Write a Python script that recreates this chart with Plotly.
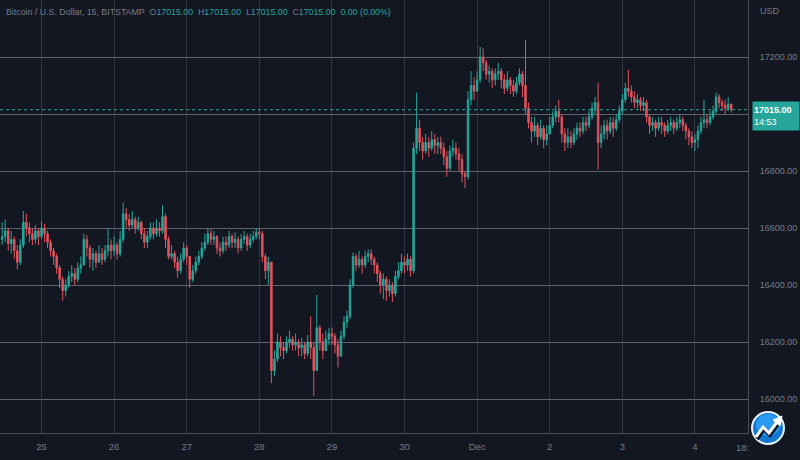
import pandas as pd
import plotly.graph_objects as go

# ---------------- data (hourly candles) ----------------
start_time = "2022-11-24 11:00"
first_open = 16560

closes = [
    # Nov 24 (11:00-23:00)
    16570, 16590, 16545, 16560, 16520, 16480, 16540, 16620, 16600, 16580, 16560, 16590, 16570,
    # Nov 25
    16600, 16580, 16550, 16520, 16500, 16460, 16420, 16380, 16400, 16430, 16440, 16420,
    16460, 16470, 16560, 16530, 16490, 16510, 16480, 16510, 16490, 16520, 16540, 16520,
    # Nov 26
    16540, 16510, 16560, 16650, 16630, 16610, 16630, 16600, 16620, 16580, 16550, 16570,
    16600, 16580, 16600, 16590, 16640, 16560, 16500, 16510, 16480, 16450, 16490, 16530,
    # Nov 27
    16500, 16420, 16450, 16480, 16500, 16530, 16550, 16580, 16560, 16570, 16530, 16520,
    16550, 16540, 16570, 16550, 16560, 16530, 16560, 16570, 16540, 16560, 16570, 16585,
    # Nov 28
    16580, 16500, 16450, 16480, 16100, 16140, 16200, 16180, 16170, 16200, 16210, 16190,
    16200, 16180, 16190, 16160, 16200, 16180, 16100, 16250, 16200, 16170, 16210, 16230,
    # Nov 29
    16220, 16190, 16150, 16220, 16270, 16290, 16400, 16500, 16470, 16490, 16470, 16500,
    16510, 16490, 16470, 16440, 16400, 16420, 16380, 16400, 16370, 16430, 16450, 16480,
    # Nov 30
    16470, 16490, 16450, 16880, 16950, 16900, 16870, 16900, 16880, 16910, 16890, 16900,
    16880, 16850, 16810, 16870, 16880, 16860, 16840, 16790, 16780, 17050, 17100, 17080,
    # Dec 1
    17120, 17200, 17180, 17140, 17150, 17120, 17140, 17150, 17120, 17090, 17120, 17100,
    17080, 17110, 17140, 17100, 17020, 16970, 16940, 16960, 16920, 16950, 16910, 16930,
    # Dec 2
    16960, 16990, 17010, 16990, 16930, 16900, 16920, 16900, 16930, 16950, 16940, 16970,
    16960, 16990, 17020, 17040, 16900, 16930, 16960, 16940, 16970, 16950, 16980, 17010,
    # Dec 3
    17050, 17090, 17080, 17060, 17040, 17050, 17030, 17040, 16990, 16960, 16970, 16950,
    16970, 16960, 16940, 16960, 16970, 16950, 16970, 16980, 16960, 16940, 16920, 16900,
    # Dec 4 (00:00-12:00)
    16910, 16940, 16970, 16980, 16970, 16990, 17010, 17060, 17040, 17030, 17020, 17035, 17015,
]

highs = [
    16620, 16630, 16600, 16590, 16570, 16540, 16560, 16660, 16650, 16620, 16600, 16610, 16600,
    16625, 16615, 16590, 16560, 16530, 16510, 16470, 16430, 16420, 16450, 16470, 16460,
    16480, 16500, 16580, 16575, 16540, 16530, 16520, 16540, 16530, 16540, 16600, 16560,
    16570, 16550, 16590, 16690, 16670, 16650, 16660, 16640, 16640, 16625, 16600, 16590,
    16620, 16620, 16630, 16620, 16680, 16650, 16570, 16540, 16520, 16500, 16510, 16550,
    16540, 16500, 16470, 16500, 16520, 16550, 16580, 16600, 16595, 16590, 16575, 16550,
    16570, 16570, 16590, 16580, 16585, 16570, 16580, 16590, 16580, 16580, 16590, 16600,
    16600, 16590, 16510, 16500, 16480, 16170, 16230, 16220, 16200, 16220, 16240, 16220,
    16230, 16210, 16215, 16200, 16225, 16290, 16200, 16365, 16260, 16230, 16240, 16250,
    16250, 16230, 16210, 16240, 16290, 16310, 16420, 16515, 16510, 16520, 16500, 16520,
    16525, 16525, 16500, 16480, 16450, 16440, 16430, 16420, 16410, 16450, 16480, 16510,
    16500, 16510, 16500, 16900, 17075, 16980, 16920, 16930, 16920, 16940, 16930, 16920,
    16920, 16900, 16870, 16890, 16910, 16900, 16880, 16860, 16800, 17080, 17150, 17130,
    17150, 17235, 17230, 17190, 17170, 17160, 17160, 17180, 17160, 17140, 17150, 17130,
    17120, 17130, 17160, 17150, 17260, 17040, 16990, 16990, 16970, 16980, 16960, 16960,
    16990, 17010, 17030, 17050, 17000, 16950, 16950, 16940, 16950, 16970, 16970, 16990,
    16990, 17010, 17040, 17060, 17110, 16960, 16980, 16980, 16990, 16990, 17000, 17030,
    17070, 17110, 17155, 17100, 17080, 17070, 17060, 17060, 17050, 17000, 16990, 16980,
    16990, 16990, 16970, 16980, 16990, 16980, 16990, 17000, 16990, 16970, 16950, 16940,
    16930, 16960, 16990, 17050, 17000, 17010, 17030, 17075, 17070, 17050, 17050, 17060, 17030,
]

lows = [
    16540, 16550, 16520, 16510, 16490, 16455, 16470, 16530, 16570, 16550, 16540, 16545, 16540,
    16560, 16550, 16530, 16500, 16470, 16440, 16390, 16345, 16360, 16390, 16410, 16400,
    16410, 16440, 16470, 16500, 16460, 16450, 16460, 16480, 16470, 16480, 16500, 16490,
    16500, 16490, 16500, 16550, 16600, 16590, 16600, 16580, 16590, 16560, 16530, 16530,
    16560, 16560, 16570, 16570, 16580, 16530, 16490, 16490, 16460, 16425, 16440, 16480,
    16470, 16390, 16410, 16440, 16470, 16490, 16520, 16540, 16540, 16540, 16510, 16500,
    16510, 16520, 16530, 16530, 16530, 16510, 16520, 16545, 16520, 16530, 16550, 16560,
    16560, 16480, 16420, 16400, 16055, 16080, 16130, 16150, 16140, 16160, 16180, 16170,
    16170, 16150, 16150, 16140, 16150, 16140, 16010, 16100, 16170, 16140, 16170, 16190,
    16190, 16160, 16110, 16150, 16210, 16250, 16280, 16390, 16450, 16460, 16440, 16460,
    16480, 16470, 16440, 16410, 16370, 16350, 16345, 16360, 16340, 16360, 16420, 16440,
    16440, 16450, 16430, 16440, 16860, 16870, 16840, 16860, 16850, 16870, 16860, 16860,
    16860, 16820, 16780, 16800, 16850, 16840, 16800, 16760, 16740, 16770, 17030, 17050,
    17080, 17110, 17150, 17120, 17110, 17090, 17100, 17120, 17090, 17070, 17080, 17070,
    17060, 17070, 17100, 17060, 17000, 16950, 16900, 16920, 16890, 16910, 16880, 16890,
    16930, 16950, 16970, 16970, 16900, 16870, 16880, 16880, 16890, 16910, 16920, 16930,
    16940, 16950, 16980, 17000, 16805, 16880, 16910, 16910, 16930, 16920, 16940, 16970,
    17000, 17040, 17060, 17040, 17020, 17020, 17010, 17010, 16970, 16930, 16940, 16920,
    16940, 16930, 16920, 16930, 16940, 16930, 16940, 16950, 16940, 16910, 16890, 16880,
    16870, 16880, 16930, 16950, 16950, 16960, 16980, 17000, 17020, 17010, 17000, 17010, 17005,
]

day_ticks = ["2022-11-25", "2022-11-26", "2022-11-27", "2022-11-28", "2022-11-29",
             "2022-11-30", "2022-12-01", "2022-12-02", "2022-12-03", "2022-12-04"]
day_labels = ["25", "26", "27", "28", "29", "30", "Dec", "2", "3", "4"]
price_ticks = [16000, 16200, 16400, 16600, 16800, 17000, 17200]
# the 17000 label sits under the last-price tag, so it is left blank
price_labels = ["16000.00", "16200.00", "16400.00", "16600.00", "16800.00", "", "17200.00"]

x_range = ["2022-11-24 10:17", "2022-12-04 17:33"]
y_range = [15880.7, 17400]

# ---------------- styling ----------------
BG = "#131722"
UP = "#26a69a"
DN = "#e0535c"
TXT = "#787b86"
HGRID = "#5f626c"
VGRID = "#323643"
FONT = "Liberation Sans, Arial, sans-serif"

W_PLOT, H_PLOT = 748, 433  # plot area in px


def px(x):
    return x / W_PLOT


def py(y):
    return (H_PLOT - y) / H_PLOT


times = pd.date_range(start_time, periods=len(closes), freq="h")
opens = [first_open] + closes[:-1]

fig = go.Figure(
    go.Candlestick(
        x=times, open=opens, high=highs, low=lows, close=closes,
        increasing=dict(line=dict(color=UP, width=1), fillcolor=UP),
        decreasing=dict(line=dict(color=DN, width=1), fillcolor=DN),
        whiskerwidth=0, hoverinfo="skip", showlegend=False,
    )
)

fig.update_layout(
    width=800, height=460,
    margin=dict(l=0, r=52, t=0, b=27, autoexpand=False),
    paper_bgcolor=BG, plot_bgcolor=BG,
    font=dict(family=FONT, size=9, color=TXT),
    showlegend=False,
    xaxis=dict(
        type="date", range=x_range, rangeslider=dict(visible=False),
        tickvals=day_ticks, ticktext=day_labels,
        showgrid=True, gridcolor=VGRID, gridwidth=1,
        showline=True, linecolor="#4a4e59", linewidth=1,
        zeroline=False, ticks="", ticklabelstandoff=5,
        tickfont=dict(size=9.5, color=TXT),
        fixedrange=True,
    ),
    yaxis=dict(
        side="right", range=y_range,
        tickvals=price_ticks, ticktext=price_labels,
        showgrid=True, gridcolor=HGRID, gridwidth=1,
        showline=True, linecolor="#4a4e59", linewidth=1,
        zeroline=False, ticks="", ticklabelstandoff=9,
        tickfont=dict(size=9, color=TXT),
        fixedrange=True,
    ),
)

last = closes[-1]

shapes = [
    # last price line
    dict(type="line", xref="paper", yref="y", x0=0, x1=1, y0=last, y1=last,
         line=dict(color=UP, width=1, dash="dot"), layer="above"),
    # logo (decoration)
    dict(type="circle", xref="paper", yref="paper",
         x0=px(751), x1=px(785), y0=py(445), y1=py(411),
         fillcolor="#e8f2fb", line=dict(width=0), layer="above"),
    dict(type="circle", xref="paper", yref="paper",
         x0=px(753), x1=px(783), y0=py(443), y1=py(413),
         fillcolor="#1677d2", line=dict(width=0), layer="above"),
    dict(type="circle", xref="paper", yref="paper",
         x0=px(756), x1=px(780), y0=py(436), y1=py(414),
         fillcolor="#2a9af0", line=dict(width=0), layer="above"),
    dict(type="path", xref="paper", yref="paper",
         path=f"M {px(757)} {py(439)} L {px(764)} {py(429)} L {px(770)} {py(435)} L {px(778)} {py(424)}",
         line=dict(color="#0a1a2e", width=4), layer="above"),
    dict(type="path", xref="paper", yref="paper",
         path=f"M {px(756)} {py(437)} L {px(763)} {py(427)} L {px(769)} {py(433)} L {px(777)} {py(422)}",
         line=dict(color="white", width=3), layer="above"),
    dict(type="path", xref="paper", yref="paper",
         path=f"M {px(773)} {py(420)} L {px(782)} {py(416)} L {px(780)} {py(426)} Z",
         fillcolor="white", line=dict(color="white", width=1), layer="above"),
]
fig.update_layout(shapes=shapes)

val = f"{last:.2f}"
GAP = "&nbsp;&nbsp;"
legend_text = (
    f"Bitcoin / U.S. Dollar, 15, BITSTAMP{GAP}"
    f"O<span style='color:{UP}'>{val}</span>{GAP}"
    f"H<span style='color:{UP}'>{val}</span>{GAP}"
    f"L<span style='color:{UP}'>{val}</span>{GAP}"
    f"C<span style='color:{UP}'>{val}</span>{GAP}"
    f"<span style='color:{UP}'>0.00 (0.00%)</span>"
)

annotations = [
    dict(text=legend_text, xref="paper", yref="paper", x=0, y=1,
         xanchor="left", yanchor="middle", xshift=4, yshift=-12,
         showarrow=False, font=dict(size=8.8, color=TXT, family=FONT)),
    dict(text="USD", xref="paper", yref="paper", x=px(758), y=py(11),
         xanchor="left", yanchor="middle", showarrow=False,
         font=dict(size=9, color=TXT, family=FONT)),
    dict(text=f"<b>{val}</b><br>14:53", xref="paper", yref="y", x=px(752), y=last,
         xanchor="left", yanchor="top", yshift=9, align="left",
         showarrow=False, bgcolor=UP, width=44, height=26, borderpad=1,
         font=dict(size=9, color="white", family=FONT)),
    dict(text="18:", xref="paper", yref="paper", x=px(751), y=py(447),
         xanchor="right", yanchor="middle", showarrow=False,
         font=dict(size=9.5, color=TXT, family=FONT)),
]
fig.update_layout(annotations=annotations)

fig.write_html("out.html", config={"displayModeBar": False},
               post_script="document.body.style.margin='0px';")
